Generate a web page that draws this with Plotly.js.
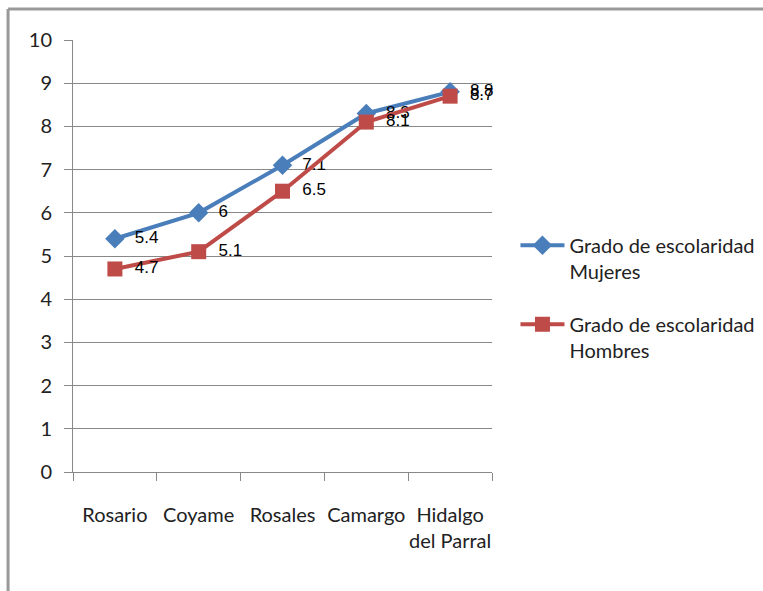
<!DOCTYPE html>
<html><head><meta charset="utf-8">
<script src="https://cdn.plot.ly/plotly-3.0.1.min.js"></script>
<style>body{margin:0;background:#fff}#c{width:763px;height:591px}</style>
</head><body><div id="c"></div>
<script>
const categories = ["Rosario", "Coyame", "Rosales", "Camargo", "Hidalgo<br>del Parral"];
const mujeres = [5.4, 6, 7.1, 8.3, 8.8];
const hombres = [4.7, 5.1, 6.5, 8.1, 8.7];
const seriesNames = ["Grado de escolaridad<br>Mujeres", "Grado de escolaridad<br>Hombres"];

const tickFont = {family: "Lato, Open Sans, sans-serif", size: 20, color: "#222"};
const labelFont = {family: "Liberation Sans, Arial, sans-serif", size: 17, color: "#000"};

const traces = [
  {x: categories, y: mujeres, name: seriesNames[0], legendgroup: "m", mode: "lines+markers+text",
   text: mujeres.map(v => "\u00a0\u00a0" + v), textposition: "middle right", textfont: labelFont,
   line: {color: "#4A7EBB", width: 4}, marker: {symbol: "diamond", size: 15, color: "#4A7EBB"}, cliponaxis: false},
  {x: categories, y: hombres, name: seriesNames[1], legendgroup: "h", mode: "lines+markers+text",
   text: hombres.map(v => "\u00a0\u00a0" + v), textposition: "middle right", textfont: labelFont,
   line: {color: "#BE4B48", width: 4}, marker: {symbol: "square", size: 15, color: "#BE4B48"}, cliponaxis: false}
];

const layout = {
  width: 763, height: 591,
  margin: {l: 73, r: 271, t: 40, b: 119, autoexpand: false},
  paper_bgcolor: "#fff", plot_bgcolor: "#fff",
  showlegend: true,
  legend: {x: 1.056, xanchor: "left", y: 0.57, yanchor: "top", font: tickFont, valign: "top", tracegroupgap: 24, itemwidth: 44},
  xaxis: {type: "category", range: [-0.5, 4.5], showgrid: false, showline: true, linecolor: "#888", linewidth: 1, tickangle: 0,
          ticks: "outside", tickson: "boundaries", ticklen: 8, tickcolor: "#888", tickfont: tickFont, ticklabelstandoff: 25, automargin: false},
  yaxis: {range: [0, 10], dtick: 1, showgrid: true, gridcolor: "#888", gridwidth: 1, showline: true, linecolor: "#888", automargin: false,
          ticks: "outside", ticklen: 8, tickcolor: "#888", tickfont: tickFont, zeroline: false, ticklabelstandoff: 8},
  shapes: [
    {type: "line", xref: "paper", yref: "paper", x0: -0.155, x1: 1.66, y0: 1.0718, y1: 1.0718, line: {color: "#999", width: 3}},
    {type: "line", xref: "paper", yref: "paper", x0: -0.155, x1: -0.155, y0: 1.0718, y1: -0.3, line: {color: "#999", width: 3}}
  ]
};
Plotly.newPlot("c", traces, layout, {displayModeBar: false});
</script></body></html>
